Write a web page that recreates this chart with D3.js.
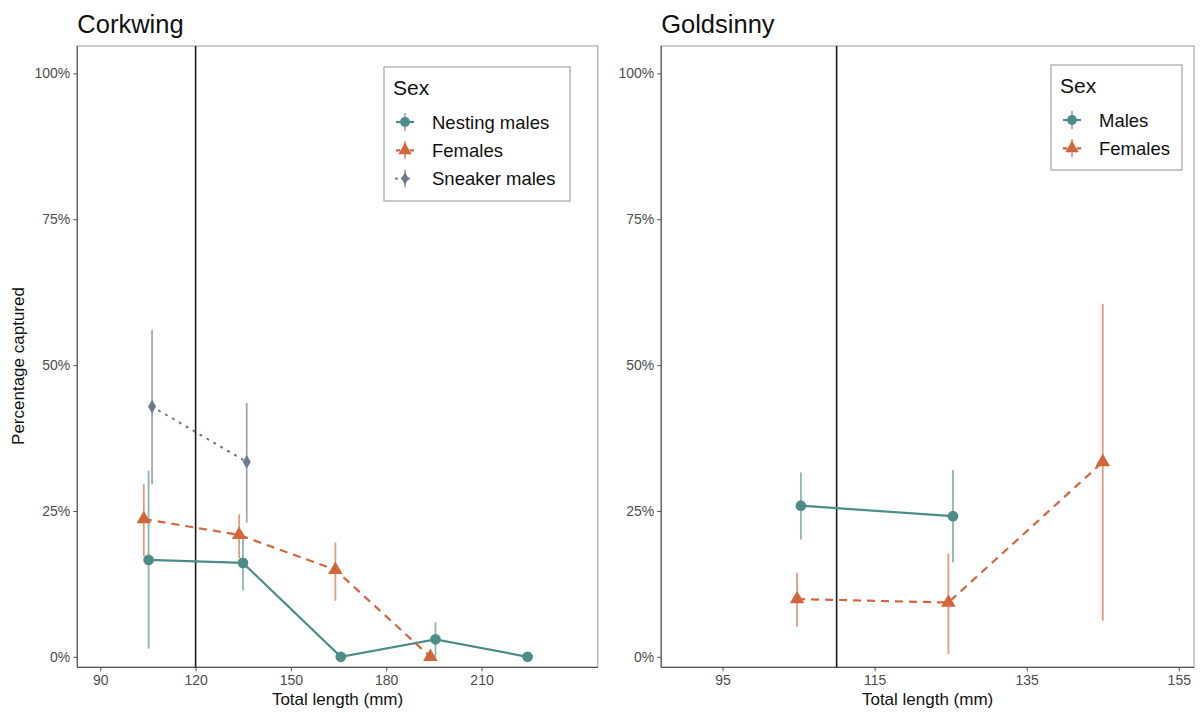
<!DOCTYPE html>
<html>
<head>
<meta charset="utf-8">
<script src="https://cdn.jsdelivr.net/npm/d3@7"></script>
<style>
  body { margin: 0; background: #fff; }
  svg { font-family: "Liberation Sans", Arial, sans-serif; }
</style>
</head>
<body>
<script>
// ---- data (percent captured by length class) ----
var yTicks = [0, 25, 50, 75, 100];

// Corkwing
var corkXTicks   = [90, 120, 150, 180, 210];
var corkNestX    = [105.2, 134.9, 165.7, 195.5, 224.5];
var corkNestY    = [16.6, 16.1, 0, 3.0, 0];
var corkNestLo   = [1.4, 11.4, 0, 0, 0];
var corkNestHi   = [31.9, 20.6, 0, 5.9, 0];
var corkFemX     = [103.7, 133.7, 164.0, 193.9];
var corkFemY     = [23.6, 20.9, 14.9, 0];
var corkFemLo    = [17.2, 16.9, 9.6, 0];
var corkFemHi    = [29.6, 24.4, 19.6, 0];
var corkSneakX   = [106.3, 136.1];
var corkSneakY   = [42.9, 33.4];
var corkSneakLo  = [29.6, 23.0];
var corkSneakHi  = [56.0, 43.5];
var corkCutoff   = 120;

// Goldsinny
var goldXTicks   = [95, 115, 135, 155];
var goldMaleX    = [105.3, 125.3];
var goldMaleY    = [25.9, 24.1];
var goldMaleLo   = [20.1, 16.2];
var goldMaleHi   = [31.6, 32.0];
var goldFemX     = [104.8, 124.7, 145.0];
var goldFemY     = [9.9, 9.3, 33.4];
var goldFemLo    = [5.1, 0.5, 6.2];
var goldFemHi    = [14.4, 17.7, 60.5];
var goldCutoff   = 110;

var teal = "#4d8d89", orange = "#d1663a", slate = "#6d798d";

function zip(xs, ys, lo, hi) {
  return xs.map(function (x, i) { return {x: x, y: ys[i], lo: lo[i], hi: hi[i]}; });
}

var svg = d3.select("body").append("svg")
    .attr("width", 1200)
    .attr("height", 713);

function drawPanel(p) {
  var x = d3.scaleLinear().domain(p.xDomain).range([p.left, p.right]);
  var y = d3.scaleLinear().domain([-1.8, 104.7]).range([p.bottom, p.top]);
  var g = svg.append("g");

  // title
  g.append("text")
      .attr("x", p.left)
      .attr("y", 33)
      .style("font-size", "25.5px")
      .style("fill", "#111")
      .text(p.title);

  // panel frame
  g.append("rect")
      .attr("x", p.left).attr("y", p.top)
      .attr("width", p.right - p.left).attr("height", p.bottom - p.top)
      .attr("fill", "none").attr("stroke", "#9a9a9a").attr("stroke-width", 1);

  // axes
  var xAxis = d3.axisBottom(x).tickValues(p.xTicks).tickSize(4).tickPadding(4);
  var yAxis = d3.axisLeft(y).tickValues(yTicks).tickSize(4).tickPadding(3)
      .tickFormat(function (d) { return d + "%"; });

  var gx = g.append("g")
      .attr("transform", "translate(0," + p.bottom + ")")
      .call(xAxis);
  var gy = g.append("g")
      .attr("transform", "translate(" + p.left + ",0)")
      .call(yAxis);
  [gx, gy].forEach(function (a) {
    a.select(".domain").attr("stroke", "#555").attr("stroke-width", 1.2);
    a.selectAll(".tick line").attr("stroke", "#555");
    a.selectAll(".tick text").style("font-size", "14px").style("fill", "#4d4d4d")
        .style("font-family", "Liberation Sans, Arial, sans-serif");
  });
  gy.select(".domain").attr("d", "M0," + p.top + "V" + p.bottom);
  gx.select(".domain").attr("d", "M" + p.left + ",0H" + p.right);

  g.append("text")
      .attr("x", (p.left + p.right) / 2)
      .attr("y", 705)
      .attr("text-anchor", "middle")
      .style("font-size", "17px")
      .style("fill", "#111")
      .text("Total length (mm)");

  if (p.yTitle) {
    g.append("text")
        .attr("transform", "translate(24,366) rotate(-90)")
        .attr("text-anchor", "middle")
        .style("font-size", "17px")
        .style("fill", "#111")
        .text(p.yTitle);
  }

  // cutoff line
  g.append("line")
      .attr("x1", x(p.cutoff)).attr("x2", x(p.cutoff))
      .attr("y1", p.top).attr("y2", p.bottom)
      .attr("stroke", "#1a1a1a").attr("stroke-width", 1.6);

  var line = d3.line().x(function (d) { return x(d.x); }).y(function (d) { return y(d.y); });

  // lines
  p.series.forEach(function (s) {
    g.append("path")
        .datum(s.data)
        .attr("d", line)
        .attr("fill", "none")
        .attr("stroke", s.color)
        .attr("stroke-width", 2.2)
        .attr("stroke-dasharray", s.dash)
        .attr("stroke-linecap", s.dash === "1,7" ? "round" : "butt");
  });

  // error bars
  p.series.forEach(function (s) {
    g.selectAll(null)
        .data(s.data.filter(function (d) { return d.hi > d.lo; }))
        .enter().append("line")
        .attr("x1", function (d) { return x(d.x); })
        .attr("x2", function (d) { return x(d.x); })
        .attr("y1", function (d) { return y(d.lo); })
        .attr("y2", function (d) { return y(d.hi); })
        .attr("stroke", s.color)
        .attr("stroke-opacity", 0.65)
        .attr("stroke-width", 1.8);
  });

  // points
  p.series.forEach(function (s) {
    g.selectAll(null)
        .data(s.data)
        .enter().append("path")
        .attr("transform", function (d) { return "translate(" + x(d.x) + "," + y(d.y) + ")"; })
        .attr("d", d3.symbol().type(s.shape).size(s.size))
        .attr("fill", s.color);
  });

  // legend
  var L = p.legend;
  var lg = g.append("g");
  lg.append("rect")
      .attr("x", L.x).attr("y", L.y)
      .attr("width", L.w).attr("height", L.h)
      .attr("fill", "#fff").attr("stroke", "#b5b5b5").attr("stroke-width", 1.5);
  lg.append("text")
      .attr("x", L.x + 9).attr("y", L.y + 28)
      .style("font-size", "21px").style("fill", "#111")
      .text("Sex");
  p.series.forEach(function (s, i) {
    var cy = L.y + 55 + i * 28.3, cx = L.x + 21;
    lg.append("line")
        .attr("x1", cx - 9).attr("x2", cx + 9).attr("y1", cy).attr("y2", cy)
        .attr("stroke", s.color).attr("stroke-width", 2.2)
        .attr("stroke-dasharray", s.dash === "1,7" ? "1,5" : (s.dash ? "4,3" : null))
        .attr("stroke-linecap", s.dash === "1,7" ? "round" : "butt");
    lg.append("line")
        .attr("x1", cx).attr("x2", cx).attr("y1", cy - 9).attr("y2", cy + 9)
        .attr("stroke", s.color).attr("stroke-opacity", 0.65).attr("stroke-width", 1.8);
    lg.append("path")
        .attr("transform", "translate(" + cx + "," + cy + ")")
        .attr("d", d3.symbol().type(s.shape).size(s.size * 0.85))
        .attr("fill", s.color);
    lg.append("text")
        .attr("x", L.x + 48).attr("y", cy + 6.5)
        .style("font-size", "18.5px").style("fill", "#111")
        .text(s.name);
  });
}

drawPanel({
  title: "Corkwing",
  yTitle: "Percentage captured",
  left: 77.3, right: 597.8, top: 46, bottom: 667.3,
  xDomain: [82.76, 246.6],
  xTicks: corkXTicks,
  cutoff: corkCutoff,
  legend: {x: 384, y: 67, w: 186, h: 134},
  series: [
    {name: "Nesting males", color: teal, dash: null, shape: d3.symbolCircle, size: 90,
     data: zip(corkNestX, corkNestY, corkNestLo, corkNestHi)},
    {name: "Females", color: orange, dash: "8,6", shape: d3.symbolTriangle, size: 92,
     data: zip(corkFemX, corkFemY, corkFemLo, corkFemHi)},
    {name: "Sneaker males", color: slate, dash: "1,7", shape: d3.symbolDiamond, size: 55,
     data: zip(corkSneakX, corkSneakY, corkSneakLo, corkSneakHi)}
  ]
});

drawPanel({
  title: "Goldsinny",
  yTitle: null,
  left: 661.2, right: 1194, top: 46, bottom: 667.3,
  xDomain: [86.93, 157.0],
  xTicks: goldXTicks,
  cutoff: goldCutoff,
  legend: {x: 1051, y: 65, w: 131, h: 105},
  series: [
    {name: "Males", color: teal, dash: null, shape: d3.symbolCircle, size: 90,
     data: zip(goldMaleX, goldMaleY, goldMaleLo, goldMaleHi)},
    {name: "Females", color: orange, dash: "8,6", shape: d3.symbolTriangle, size: 92,
     data: zip(goldFemX, goldFemY, goldFemLo, goldFemHi)}
  ]
});
</script>
</body>
</html>
